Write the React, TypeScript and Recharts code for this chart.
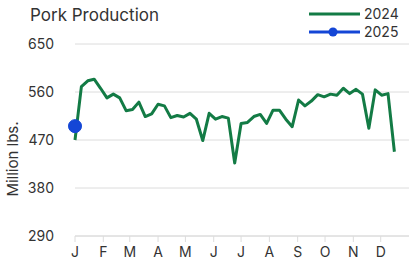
import { LineChart, Line, XAxis, YAxis, CartesianGrid } from "recharts";

// weekly pork production, million lbs
const weekDays2024 = [
  0, 7, 14, 21, 28, 35, 42, 49, 56, 63, 70, 77, 84, 91, 98, 105, 112, 119, 126, 133, 140, 147,
  154, 161, 168, 175, 182, 189, 196, 203, 210, 217, 224, 231, 238, 245, 252, 259, 266, 273,
  280, 287, 294, 301, 308, 315, 322, 329, 336, 343, 350,
];
const values2024 = [
  470, 570, 581, 584, 567, 549, 556, 549, 525, 527, 541, 514, 519, 537, 534, 512, 516, 513, 520, 509, 469, 520,
  509, 514, 511, 427, 501, 503, 514, 518, 501, 526, 526, 509, 495, 545, 534, 543, 555, 551,
  556, 554, 567, 557, 565, 556, 492, 564, 554, 557, 448,
];
const weekDays2025 = [0];
const values2025 = [496];

const monthTicks = [0, 31, 60, 91, 121, 152, 182, 213, 244, 274, 305, 335];
const monthLabels = ["J", "F", "M", "A", "M", "J", "J", "A", "S", "O", "N", "D"];
const yTicks = [290, 380, 470, 560, 650];

const GREEN = "#137b45";
const BLUE = "#1446d6";
const TEXT = "#333";
const FONT = "Inter, 'Open Sans', sans-serif";

const data2024 = weekDays2024.map((d, i) => ({ day: d, v2024: values2024[i] }));
const data2025 = weekDays2025.map((d, i) => ({ day: d, v2025: values2025[i] }));

export default function App() {
  return (
    <div style={{ position: "absolute", left: 0, top: 0, width: 409, height: 267, fontFamily: FONT, background: "#fff", overflow: "hidden" }}>
      <div style={{ position: "absolute", left: 30, top: 5, fontSize: 17, lineHeight: "20px", color: TEXT }}>Pork Production</div>
      {/* legend */}
      <div style={{ position: "absolute", left: 309, top: 5, fontSize: 14, color: TEXT }}>
        <div style={{ display: "flex", alignItems: "center", height: 17.5 }}>
          <svg width={52} height={17}>
            <line x1={0} x2={51} y1={9} y2={9} stroke={GREEN} strokeWidth={3} />
          </svg>
          <span style={{ marginLeft: 3, lineHeight: "15px", display: "block" }}>2024</span>
        </div>
        <div style={{ display: "flex", alignItems: "center", height: 17.5 }}>
          <svg width={52} height={17}>
            <line x1={0} x2={51} y1={9} y2={9} stroke={BLUE} strokeWidth={3} />
            <circle cx={24} cy={9} r={4.5} fill={BLUE} />
          </svg>
          <span style={{ marginLeft: 3, lineHeight: "15px", display: "block" }}>2025</span>
        </div>
      </div>
      <div
        style={{
          position: "absolute",
          left: -37,
          top: 150,
          width: 100,
          textAlign: "center",
          fontSize: 15,
          lineHeight: "18px",
          color: TEXT,
          transform: "rotate(-90deg)",
        }}
      >
        Million lbs.
      </div>
      <LineChart width={409} height={267} margin={{ top: 44, right: 0, bottom: 6, left: 0 }}>
        <CartesianGrid vertical={false} stroke="#dcdcdc" />
        <XAxis
          type="number"
          dataKey="day"
          domain={[0, 366]}
          ticks={monthTicks}
          tickFormatter={(d: number) => monthLabels[monthTicks.indexOf(d)]}
          height={25}
          tickSize={6}
          tickMargin={5}
          axisLine={{ stroke: "#dcdcdc" }}
          tickLine={{ stroke: "#dcdcdc" }}
          tick={{ fontSize: 14, fill: TEXT, fontFamily: FONT }}
          allowDuplicatedCategory={false}
        />
        <YAxis
          type="number"
          domain={[290, 650]}
          ticks={yTicks}
          width={75}
          axisLine={false}
          tickLine={false}
          tickMargin={15}
          tick={{ fontSize: 14, fill: TEXT, fontFamily: FONT }}
        />
        <Line
          data={data2024}
          dataKey="v2024"
          stroke={GREEN}
          strokeWidth={3}
          dot={false}
          strokeLinejoin="round"
          isAnimationActive={false}
        />
        <Line
          data={data2025}
          dataKey="v2025"
          stroke={BLUE}
          strokeWidth={3}
          dot={{ r: 6.5, fill: BLUE, stroke: BLUE, strokeWidth: 1 }}
          isAnimationActive={false}
        />
      </LineChart>
    </div>
  );
}
